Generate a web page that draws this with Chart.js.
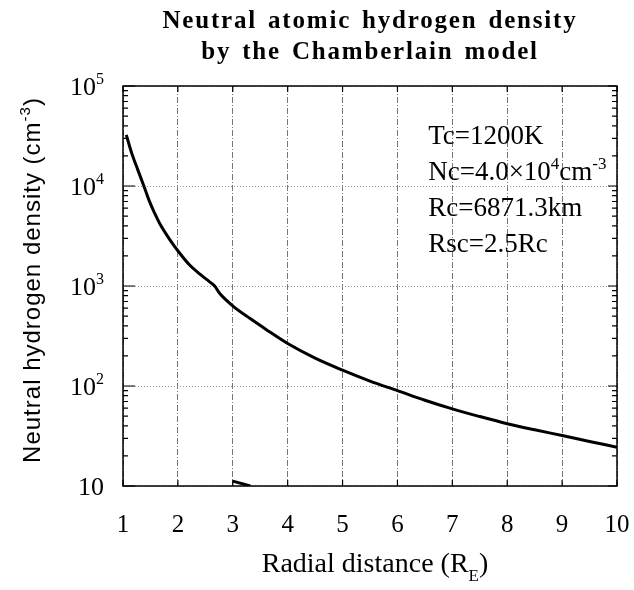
<!DOCTYPE html>
<html>
<head>
<meta charset="utf-8">
<title>Neutral atomic hydrogen density</title>
<script src="https://cdn.jsdelivr.net/npm/chart.js@4.4.0/dist/chart.umd.min.js"></script>
<style>
  html, body { margin:0; padding:0; background:#fff; }
  canvas { display:block; }
</style>
</head>
<body>
<canvas id="densityChart" width="634" height="590"></canvas>
<script>
// values: radial distance (R_E) and density (cm^-3)
const radialDistance = [1.06, 1.16, 1.27, 1.38, 1.484, 1.58, 1.666, 1.849, 2.013, 2.214, 2.396, 2.578, 2.67, 2.76, 3.004, 3.31, 3.6, 4.0, 4.5, 5.0, 5.5, 6.0, 6.5, 7.0, 7.5, 8.0, 8.5, 9.0, 9.5, 10.0];
const hydrogenDensity = [32400, 21200, 14500, 10000, 6970, 5300, 4240, 2930, 2200, 1620, 1320, 1100, 1000, 845, 630, 475, 370, 266, 190, 144, 112, 90, 72, 59, 49.5, 42, 36.5, 32, 27.9, 24.4];
// short stray stroke lying on the bottom axis near x=3
const strayX = [3.0, 3.32];
const strayY = [11.2, 10];

const xTicks = [1, 2, 3, 4, 5, 6, 7, 8, 9, 10];
const yTicks = [10, 100, 1000, 10000, 100000];
const yTickExp = ['', '2', '3', '4', '5'];

const titleLines = ['Neutral atomic hydrogen density', 'by the Chamberlain model'];
const paramLines = [
  [['Tc=1200K']],
  [['Nc=4.0×10'], ['4', 'sup'], ['cm'], ['-3', 'sup']],
  [['Rc=6871.3km']],
  [['Rsc=2.5Rc']]
];
const serif = '"Liberation Serif", "Times New Roman", serif';
const sans = '"Liberation Sans", Arial, sans-serif';

function pts(xs, ys) { return xs.map((x, i) => ({ x, y: ys[i] })); }

// text with super/subscripts, parts = [[text, kind], ...]
function drawRich(ctx, parts, x, y, size, family, align) {
  const small = Math.round(size * 0.62);
  const pieces = parts.map(([t, kind]) => {
    const fs = kind ? small : size;
    ctx.font = fs + 'px ' + family;
    const dy = kind === 'sup' ? -size * 0.42 : kind === 'sub' ? size * 0.32 : 0;
    return { t, fs, dy, w: ctx.measureText(t).width };
  });
  const total = pieces.reduce((s, p) => s + p.w, 0);
  let cx = align === 'center' ? x - total / 2 : align === 'right' ? x - total : x;
  ctx.textAlign = 'left';
  ctx.textBaseline = 'alphabetic';
  pieces.forEach(p => {
    ctx.font = p.fs + 'px ' + family;
    ctx.fillText(p.t, cx, y + p.dy);
    cx += p.w;
  });
}

const framePlugin = {
  id: 'frame',
  afterDraw(chart) {
    const ctx = chart.ctx, a = chart.chartArea;
    const xs = chart.scales.x, ys = chart.scales.y;
    ctx.save();
    ctx.strokeStyle = '#000';
    ctx.fillStyle = '#000';
    ctx.lineWidth = 1.5;
    ctx.strokeRect(a.left, a.top, a.right - a.left, a.bottom - a.top);

    // inward ticks
    ctx.lineWidth = 1.2;
    ctx.beginPath();
    xTicks.forEach(v => {
      const px = xs.getPixelForValue(v);
      ctx.moveTo(px, a.bottom); ctx.lineTo(px, a.bottom - 6);
      ctx.moveTo(px, a.top); ctx.lineTo(px, a.top + 6);
    });
    yTicks.forEach(d => {
      for (let m = 1; m <= 9; m++) {
        const v = d * m;
        if (v > 100000) break;
        const py = ys.getPixelForValue(v);
        ctx.moveTo(a.left, py); ctx.lineTo(a.left + (m === 1 ? 12 : 5), py);
        ctx.moveTo(a.right, py); ctx.lineTo(a.right - (m === 1 ? 9 : 5), py);
      }
    });
    ctx.stroke();

    // y tick labels 10, 10^2 ...
    yTicks.forEach((v, i) => {
      const py = ys.getPixelForValue(v);
      drawRich(ctx, yTickExp[i] ? [['10'], [yTickExp[i], 'sup']] : [['10']], a.left - 19, py + 9, 26, serif, 'right');
    });

    // title
    const mid = (a.left + a.right) / 2;
    ctx.font = 'bold 25px ' + serif;
    ctx.letterSpacing = '1.8px';
    ctx.wordSpacing = '3px';
    ctx.textAlign = 'center';
    ctx.textBaseline = 'alphabetic';
    ctx.fillText(titleLines[0], mid, 28);
    ctx.fillText(titleLines[1], mid, 59);
    ctx.letterSpacing = '0px';
    ctx.wordSpacing = '0px';

    // axis titles
    drawRich(ctx, [['Radial distance (R'], ['E', 'sub'], [')']], mid + 5, 572, 28, serif, 'center');
    ctx.save();
    ctx.translate(40, (a.top + a.bottom) / 2 - 6);
    ctx.rotate(-Math.PI / 2);
    ctx.letterSpacing = '1px';
    drawRich(ctx, [['Neutral hydrogen density (cm'], ['-3', 'sup'], [')']], 0, 0, 24, sans, 'center');
    ctx.letterSpacing = '0px';
    ctx.restore();

    // model parameters
    const left = xs.getPixelForValue(6.56);
    paramLines.forEach((parts, i) => {
      drawRich(ctx, parts, left, a.top + 58 + i * 36, 27, serif, 'left');
    });
    ctx.restore();
  }
};

new Chart(document.getElementById('densityChart'), {
  type: 'line',
  data: {
    datasets: [
      { data: pts(radialDistance, hydrogenDensity), borderColor: '#000', borderWidth: 3, pointRadius: 0, cubicInterpolationMode: 'monotone', fill: false },
      { data: pts(strayX, strayY), borderColor: '#000', borderWidth: 3, pointRadius: 0, fill: false }
    ]
  },
  options: {
    responsive: false,
    animation: false,
    devicePixelRatio: 1,
    layout: { padding: { top: 86, right: 17, left: 0, bottom: 0 } },
    plugins: { legend: { display: false }, tooltip: { enabled: false } },
    scales: {
      x: {
        type: 'linear', min: 1, max: 10,
        afterBuildTicks: s => { s.ticks = xTicks.map(v => ({ value: v })); },
        afterFit: s => { s.height = 104; s.paddingLeft = 0; s.paddingRight = 0; },
        ticks: { color: '#000', font: { family: serif, size: 25 }, padding: 24, maxRotation: 0 },
        grid: { color: '#777', lineWidth: 1, drawTicks: false },
        border: { display: false, dash: [6, 2, 1, 2] }
      },
      y: {
        type: 'logarithmic', min: 10, max: 100000,
        afterBuildTicks: s => { s.ticks = yTicks.map(v => ({ value: v })); },
        afterFit: s => { s.width = 123; s.paddingTop = 0; s.paddingBottom = 0; },
        ticks: { display: false },
        grid: { color: '#999', lineWidth: 1, drawTicks: false },
        border: { display: false, dash: [1, 2] }
      }
    }
  },
  plugins: [framePlugin]
});
</script>
</body>
</html>
